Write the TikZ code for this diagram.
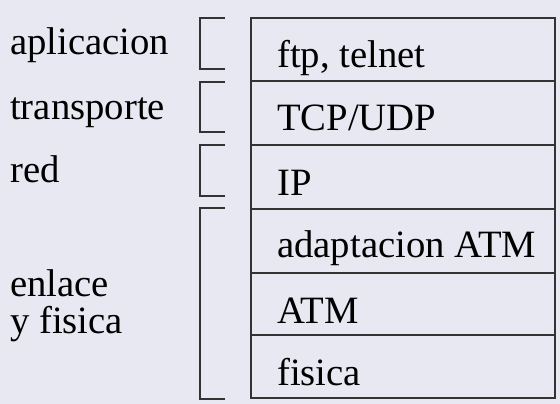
\documentclass[tikz,border=0pt]{standalone}
\usepackage{fontspec}
\setmainfont{Liberation Serif}
\definecolor{bgc}{HTML}{E8E8F2}
\definecolor{linec}{HTML}{333333}
\begin{document}
\begin{tikzpicture}[x=1pt,y=-1pt,
  lbl/.style={anchor=base west,inner sep=0pt,font=\fontsize{38.7}{38.7}\selectfont},
  frame/.style={draw=linec,line width=1.4pt},
  brk/.style={draw=linec,line width=1.2pt}]
\fill[bgc] (0,0) rectangle (560,404);
\useasboundingbox (0,0) rectangle (560,404);
% stack of boxes
\draw[frame] (251,18) rectangle (555,398);
\foreach \yy in {81,145,209,273,335} \draw[frame] (251,\yy) -- (555,\yy);
% brackets
\draw[brk] (225,18) -- (200,18) -- (200,69) -- (225,69);
\draw[brk] (225,82) -- (200,82) -- (200,132) -- (225,132);
\draw[brk] (225,145) -- (200,145) -- (200,196) -- (225,196);
\draw[brk] (225,208) -- (200,208) -- (200,399) -- (225,399);
% left labels
\node[lbl] (apl) at (10,55) {aplicacion};
\node[lbl] (tra) at (10,119) {transporte};
\node[lbl] (red) at (10,182) {red};
\node[lbl] (enl) at (10,296) {enlace};
\node[lbl] (yfi) at (10,333) {y fisica};
% box labels
\node[lbl] (ftp) at (277,68) {ftp, telnet};
\node[lbl] (tcp) at (277,131) {TCP/UDP};
\node[lbl] (ip) at (277,195) {IP};
\node[lbl] (ada) at (277,257) {adaptacion ATM};
\node[lbl] (atm) at (277,323) {ATM};
\node[lbl] (fis) at (277,385) {fisica};
\end{tikzpicture}
\end{document}
